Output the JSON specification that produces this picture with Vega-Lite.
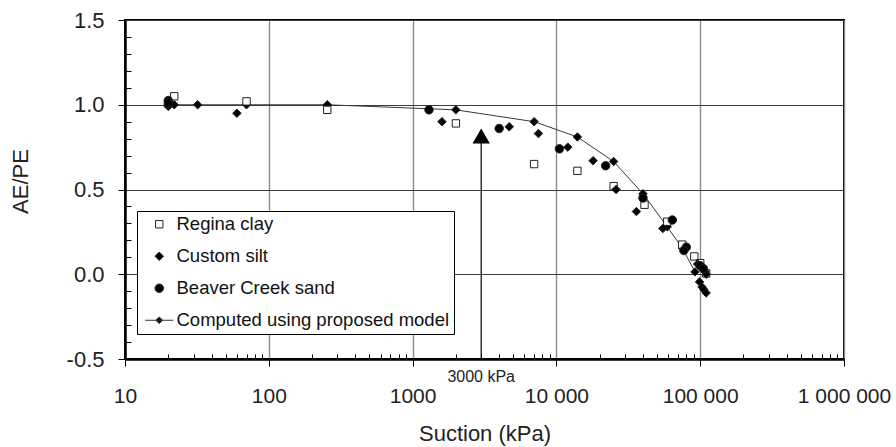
{
  "$schema": "https://vega.github.io/schema/vega-lite/v6.json",
  "width": 719,
  "height": 339,
  "autosize": "none",
  "padding": {"left": 125, "top": 20, "right": 52, "bottom": 88},
  "background": "white",
  "config": {
    "view": {"stroke": "black", "strokeWidth": 2},
    "font": "Liberation Sans",
    "axis": {"labelColor": "#222", "titleColor": "#222", "tickColor": "black", "domainColor": "black"},
    "legend": {"symbolStrokeColor": "#222", "symbolStrokeWidth": 1}
  },
  "datasets": {
    "points": [
      {"series": "Regina clay", "suction": 22, "ae_pe": 1.05},
      {"series": "Regina clay", "suction": 70, "ae_pe": 1.02},
      {"series": "Regina clay", "suction": 255, "ae_pe": 0.97},
      {"series": "Regina clay", "suction": 2000, "ae_pe": 0.89},
      {"series": "Regina clay", "suction": 7000, "ae_pe": 0.65},
      {"series": "Regina clay", "suction": 14000, "ae_pe": 0.61},
      {"series": "Regina clay", "suction": 25000, "ae_pe": 0.52},
      {"series": "Regina clay", "suction": 41000, "ae_pe": 0.41},
      {"series": "Regina clay", "suction": 59000, "ae_pe": 0.31},
      {"series": "Regina clay", "suction": 75000, "ae_pe": 0.175},
      {"series": "Regina clay", "suction": 91000, "ae_pe": 0.105},
      {"series": "Regina clay", "suction": 100000, "ae_pe": 0.065},
      {"series": "Regina clay", "suction": 110000, "ae_pe": 0.005},
      {"series": "Custom silt", "suction": 20, "ae_pe": 0.99},
      {"series": "Custom silt", "suction": 22, "ae_pe": 1.0},
      {"series": "Custom silt", "suction": 32, "ae_pe": 1.0},
      {"series": "Custom silt", "suction": 60, "ae_pe": 0.95},
      {"series": "Custom silt", "suction": 1600, "ae_pe": 0.9},
      {"series": "Custom silt", "suction": 4700, "ae_pe": 0.87},
      {"series": "Custom silt", "suction": 7500, "ae_pe": 0.83},
      {"series": "Custom silt", "suction": 12000, "ae_pe": 0.75},
      {"series": "Custom silt", "suction": 18000, "ae_pe": 0.67},
      {"series": "Custom silt", "suction": 26000, "ae_pe": 0.5},
      {"series": "Custom silt", "suction": 36000, "ae_pe": 0.37},
      {"series": "Custom silt", "suction": 55000, "ae_pe": 0.27},
      {"series": "Custom silt", "suction": 96000, "ae_pe": 0.06},
      {"series": "Custom silt", "suction": 104000, "ae_pe": 0.03},
      {"series": "Custom silt", "suction": 108000, "ae_pe": 0.015},
      {"series": "Custom silt", "suction": 110000, "ae_pe": 0.0},
      {"series": "Custom silt", "suction": 99000, "ae_pe": -0.045},
      {"series": "Custom silt", "suction": 103000, "ae_pe": -0.075},
      {"series": "Custom silt", "suction": 106000, "ae_pe": -0.09},
      {"series": "Custom silt", "suction": 110000, "ae_pe": -0.11},
      {"series": "Beaver Creek sand", "suction": 20, "ae_pe": 1.025},
      {"series": "Beaver Creek sand", "suction": 20, "ae_pe": 1.01},
      {"series": "Beaver Creek sand", "suction": 1300, "ae_pe": 0.97},
      {"series": "Beaver Creek sand", "suction": 4000, "ae_pe": 0.86},
      {"series": "Beaver Creek sand", "suction": 10500, "ae_pe": 0.74},
      {"series": "Beaver Creek sand", "suction": 22000, "ae_pe": 0.64},
      {"series": "Beaver Creek sand", "suction": 40000, "ae_pe": 0.45},
      {"series": "Beaver Creek sand", "suction": 64000, "ae_pe": 0.32},
      {"series": "Beaver Creek sand", "suction": 80000, "ae_pe": 0.16},
      {"series": "Beaver Creek sand", "suction": 77000, "ae_pe": 0.14},
      {"series": "Beaver Creek sand", "suction": 100000, "ae_pe": 0.05},
      {"series": "Beaver Creek sand", "suction": 105000, "ae_pe": 0.034}
    ],
    "model": [
      {"suction": 20, "ae_pe": 1.0},
      {"suction": 70, "ae_pe": 1.0},
      {"suction": 255, "ae_pe": 1.0},
      {"suction": 2000, "ae_pe": 0.97},
      {"suction": 7000, "ae_pe": 0.9},
      {"suction": 14000, "ae_pe": 0.81},
      {"suction": 25000, "ae_pe": 0.665},
      {"suction": 40000, "ae_pe": 0.475},
      {"suction": 59000, "ae_pe": 0.28},
      {"suction": 75000, "ae_pe": 0.155},
      {"suction": 92000, "ae_pe": 0.014}
    ],
    "marker": [
      {"suction": 3000, "tip": 0.815, "low": -0.5, "base": 0.775, "label": "3000 kPa"}
    ]
  },
  "resolve": {"axis": {"x": "independent", "y": "independent"}},
  "layer": [
    {
      "data": {"name": "model"},
      "mark": {"type": "line", "color": "#3a3a3a", "strokeWidth": 1},
      "encoding": {
        "x": {
          "field": "suction", "type": "quantitative",
          "scale": {"type": "log", "domain": [10, 1000000], "nice": false},
          "axis": {
            "orient": "bottom",
            "values": [20, 30, 40, 50, 60, 70, 80, 90, 200, 300, 400, 500, 600, 700, 800, 900, 2000, 3000, 4000, 5000, 6000, 7000, 8000, 9000, 20000, 30000, 40000, 50000, 60000, 70000, 80000, 90000, 200000, 300000, 400000, 500000, 600000, 700000, 800000, 900000],
            "labels": false, "grid": false, "domain": false, "tickSize": -5, "tickWidth": 1, "title": null
          }
        },
        "y": {
          "field": "ae_pe", "type": "quantitative",
          "scale": {"domain": [-0.5, 1.5], "nice": false},
          "axis": {
            "orient": "left",
            "values": [-0.4, -0.3, -0.2, -0.1, 0.1, 0.2, 0.3, 0.4, 0.6, 0.7, 0.8, 0.9, 1.1, 1.2, 1.3, 1.4],
            "labels": false, "grid": false, "domain": false, "tickSize": -6, "tickWidth": 1, "title": null
          }
        }
      }
    },
    {
      "data": {"name": "model"},
      "mark": {"type": "point", "shape": "M0,-0.53L0.53,0L0,0.53L-0.53,0Z", "size": 256, "filled": true, "fill": "black", "stroke": "#222", "strokeWidth": 1, "opacity": 1},
      "encoding": {
        "x": {"field": "suction", "type": "quantitative", "axis": null},
        "y": {"field": "ae_pe", "type": "quantitative", "axis": null}
      }
    },
    {
      "data": {"name": "points"},
      "mark": {"type": "point", "filled": true, "size": 256, "strokeWidth": 1, "opacity": 1},
      "encoding": {
        "x": {
          "field": "suction", "type": "quantitative",
          "axis": {
            "orient": "bottom",
            "values": [10, 100, 1000, 10000, 100000, 1000000],
            "labelExpr": "datum.value == 10000 ? '10 000' : datum.value == 100000 ? '100 000' : datum.value == 1000000 ? '1 000 000' : format(datum.value, 'd')",
            "grid": true, "gridColor": "#8c8c8c", "gridWidth": 1.4,
            "domain": true, "domainWidth": 2.5,
            "tickSize": 7, "tickWidth": 1,
            "labelFontSize": 21, "labelPadding": 19, "labelFlush": false, "labelOverlap": false,
            "title": "Suction (kPa)", "titleFontSize": 22, "titleFontWeight": "normal", "titlePadding": 17
          }
        },
        "y": {
          "field": "ae_pe", "type": "quantitative",
          "axis": {
            "orient": "left",
            "values": [-0.5, 0, 0.5, 1, 1.5],
            "labelExpr": "replace(format(datum.value, '.1f'), '\u2212', '-')",
            "grid": true, "gridColor": "#3c3c3c", "gridWidth": 1.2,
            "domain": true, "domainWidth": 2.5,
            "tickSize": 7, "tickWidth": 1,
            "labelFontSize": 22, "labelPadding": 14, "labelFlush": false, "labelOverlap": false,
            "title": "AE/PE", "titleFontSize": 22, "titleFontWeight": "normal", "titlePadding": 34, "titleY": 161
          }
        },
        "shape": {
          "field": "series", "type": "nominal",
          "scale": {
            "domain": ["Regina clay", "Custom silt", "Beaver Creek sand", "Computed using proposed model"],
            "range": ["M-0.46,-0.46H0.46V0.46H-0.46Z", "M0,-0.53L0.53,0L0,0.53L-0.53,0Z", "M-0.53,0A0.53,0.53 0 1,0 0.53,0A0.53,0.53 0 1,0 -0.53,0Z", "M-1.75,0H1.75M0,-0.42L0.42,0L0,0.42L-0.42,0Z"]
          },
          "legend": {
            "title": null, "orient": "none", "legendX": 12, "legendY": 191,
            "strokeColor": "black", "fillColor": "white", "padding": 4,
            "labelFontSize": 18.5, "labelColor": "#111", "labelOffset": 8, "symbolOffset": 9,
            "rowPadding": 13, "symbolSize": 256, "labelLimit": 400
          }
        },
        "fill": {
          "field": "series", "type": "nominal",
          "scale": {
            "domain": ["Regina clay", "Custom silt", "Beaver Creek sand", "Computed using proposed model"],
            "range": ["white", "black", "black", "black"]
          },
          "legend": {
            "title": null, "orient": "none", "legendX": 12, "legendY": 191,
            "strokeColor": "black", "fillColor": "white", "padding": 4,
            "labelFontSize": 18.5, "labelColor": "#111", "labelOffset": 8, "symbolOffset": 9,
            "rowPadding": 13, "symbolSize": 256, "labelLimit": 400
          }
        },
        "stroke": {
          "field": "series", "type": "nominal",
          "scale": {
            "domain": ["Regina clay", "Custom silt", "Beaver Creek sand", "Computed using proposed model"],
            "range": ["#222", "#222", "#222", "#333"]
          },
          "legend": {
            "title": null, "orient": "none", "legendX": 12, "legendY": 191,
            "strokeColor": "black", "fillColor": "white", "padding": 4,
            "labelFontSize": 18.5, "labelColor": "#111", "labelOffset": 8, "symbolOffset": 9,
            "rowPadding": 13, "symbolSize": 256, "labelLimit": 400
          }
        }
      }
    },
    {
      "data": {"name": "marker"},
      "mark": {"type": "rule", "color": "black", "strokeWidth": 1.2},
      "encoding": {
        "x": {"field": "suction", "type": "quantitative", "axis": null},
        "y": {"field": "low", "type": "quantitative", "axis": null},
        "y2": {"field": "base"}
      }
    },
    {
      "data": {"name": "marker"},
      "mark": {"type": "point", "shape": "triangle-up", "size": 300, "filled": true, "fill": "black", "opacity": 1},
      "encoding": {
        "x": {"field": "suction", "type": "quantitative", "axis": null},
        "y": {"field": "tip", "type": "quantitative", "axis": null}
      }
    },
    {
      "data": {"name": "marker"},
      "mark": {"type": "text", "fontSize": 16, "dy": 18, "align": "center", "baseline": "middle", "color": "#222"},
      "encoding": {
        "x": {"field": "suction", "type": "quantitative", "axis": null},
        "y": {"field": "low", "type": "quantitative", "axis": null},
        "text": {"field": "label"}
      }
    }
  ]
}
